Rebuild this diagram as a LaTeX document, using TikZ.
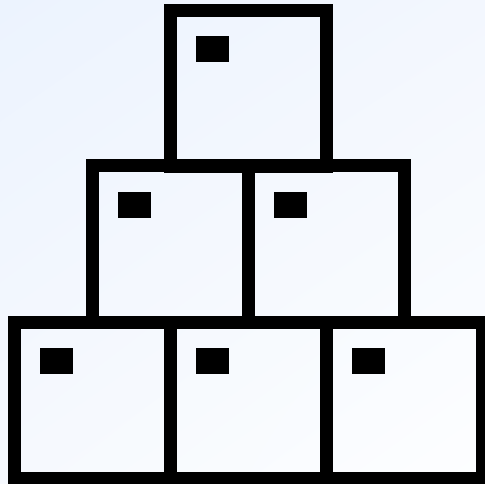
\documentclass[tikz,border=0pt]{standalone}
\usetikzlibrary{shadings}
\begin{document}
\begin{tikzpicture}[x=1pt,y=-1pt,
  crate/.style={draw=black,line width=13pt,line join=miter,inner sep=0pt,outer sep=0pt,
    minimum width=156pt,minimum height=156pt,anchor=north west},
  tag/.style={fill=black,inner sep=0pt,outer sep=0pt,minimum width=33pt,minimum height=26pt,anchor=north west}]
\definecolor{bgA}{RGB}{236,243,254}
\definecolor{bgB}{RGB}{243,247,254}
\definecolor{bgC}{RGB}{246,249,254}
\definecolor{bgD}{RGB}{253,254,255}
\useasboundingbox (0,0) rectangle (485,484);
\shade[upper left=bgA,upper right=bgB,lower left=bgC,lower right=bgD] (0,0) rectangle (485,484);
\begin{scope}
\clip (0,0) rectangle (485,484);
\node[crate] (t) at (170,10.5) {};
\node[crate] (m1) at (92,166) {};
\node[crate] (m2) at (248,166) {};
\node[crate] (b1) at (14,322) {};
\node[crate] (b2) at (170,322) {};
\node[crate] (b3) at (326,322) {};
\foreach \n in {t,m1,m2,b1,b2,b3}{
  \node[tag] (\n tag) at ([shift={(26,26)}]\n.north west) {};
}
\end{scope}
\end{tikzpicture}
\end{document}
